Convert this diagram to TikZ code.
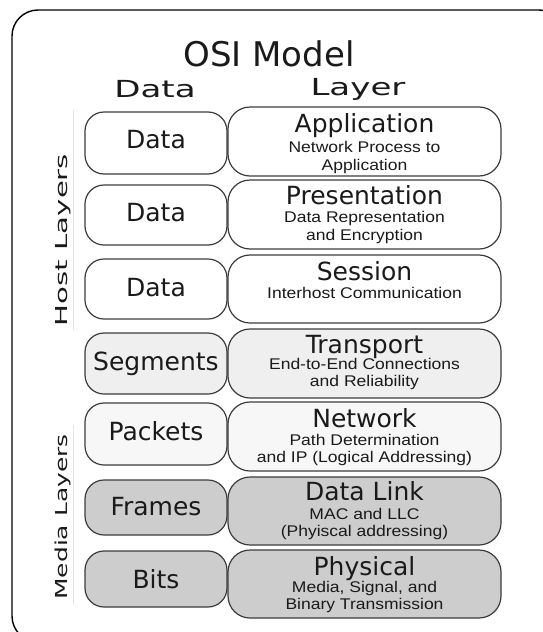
\documentclass[tikz,border=0pt]{standalone}
\usepackage{fontspec}
\usepackage{graphicx}
\setmainfont{DejaVu Sans}
\newfontfamily\dv{DejaVu Sans}
\newfontfamily\dvw[FakeStretch=1.45]{DejaVu Sans}
\newfontfamily\ar[FakeStretch=1.13]{Liberation Sans}
\definecolor{boxline}{HTML}{3C3C3C}
\definecolor{fillT}{HTML}{EFEFEF}
\definecolor{fillN}{HTML}{F7F7F7}
\definecolor{fillD}{HTML}{CDCDCD}
\definecolor{txt}{HTML}{1A1A1A}
\begin{document}
\begin{tikzpicture}[x=1pt,y=-1pt,
  frame/.style={draw=black, line width=1.4pt, rounded corners=26pt},
  lbox/.style={draw=boxline, line width=1.2pt, rounded corners=19pt, minimum width=142pt, inner sep=0pt},
  rbox/.style={draw=boxline, line width=1.2pt, rounded corners=22pt, minimum width=273pt, inner sep=0pt},
  title/.style={anchor=base, inner sep=0pt, text=txt, font=\dv\fontsize{34}{38}\selectfont},
  head/.style={anchor=base, inner sep=0pt, text=txt, font=\dvw\fontsize{23.5}{28}\selectfont},
  side/.style={anchor=base, rotate=90, inner sep=0pt, text=txt, font=\dv\fontsize{16.5}{20}\selectfont},
  lab/.style={anchor=base, inner sep=0pt, text=txt, font=\dv\fontsize{25}{30}\selectfont},
  sub/.style={anchor=base, inner sep=0pt, text=txt, font=\ar\fontsize{15.5}{18}\selectfont},
  faint/.style={draw=black!10, line width=0.6pt}
]
\useasboundingbox (0,0) rectangle (542,632);
\fill[white] (0,0) rectangle (542,632);
\draw[frame] (12,10) rectangle (565,642);

% title and headers
\node[title] (t) at (269,66) {OSI Model};
\node[head] (hd) at (155,97) {Data};
\node[head] (hl) at (358,95) {Layer};

% side labels
\draw[faint] (73,110) -- (73,330);
\draw[faint] (73,425) -- (73,605);
\node[side] (host) at (67,240) {\scalebox{1.77}[1]{Host Layers}};
\node[side] (media) at (67,517) {\scalebox{1.51}[1]{Media Layers}};

% left boxes (data units)
\node[lbox, fill=white, minimum height=62pt] (d1) at (156,143) {};
\node[lbox, fill=white, minimum height=60pt] (d2) at (156,215) {};
\node[lbox, fill=white, minimum height=60pt] (d3) at (156,289) {};
\node[lbox, fill=fillT, minimum height=61pt] (d4) at (156,363.5) {};
\node[lbox, fill=fillN, minimum height=62pt] (d5) at (156,434) {};
\node[lbox, fill=fillD, minimum height=55pt] (d6) at (156,507.5) {};
\node[lbox, fill=fillD, minimum height=56pt] (d7) at (156,579) {};

\node[lab] (ld1) at (156,148) {Data};
\node[lab] (ld2) at (156,221) {Data};
\node[lab] (ld3) at (156,296) {Data};
\node[lab] (ld4) at (156,370) {Segments};
\node[lab] (ld5) at (156,440) {Packets};
\node[lab] (ld6) at (156,515) {Frames};
\node[lab] (ld7) at (156,588) {Bits};

% right boxes (layers)
\node[rbox, fill=white, minimum height=69pt] (r1) at (364.5,141.5) {};
\node[rbox, fill=white, minimum height=69pt] (r2) at (364.5,214.5) {};
\node[rbox, fill=white, minimum height=68pt] (r3) at (364.5,289) {};
\node[rbox, fill=fillT, minimum height=69pt] (r4) at (364.5,363.5) {};
\node[rbox, fill=fillN, minimum height=69pt] (r5) at (364.5,436.5) {};
\node[rbox, fill=fillD, minimum height=68pt] (r6) at (364.5,511) {};
\node[rbox, fill=fillD, minimum height=68pt] (r7) at (364.5,584) {};

\node[lab] (h1) at (364.5,132) {Application};
\node[sub] (s1a) at (364.5,152) {Network Process to};
\node[sub] (s1b) at (364.5,170) {Application};

\node[lab] (h2) at (364.5,204) {Presentation};
\node[sub] (s2a) at (364.5,222) {Data Representation};
\node[sub] (s2b) at (364.5,240) {and Encryption};

\node[lab] (h3) at (364.5,280) {Session};
\node[sub] (s3a) at (364.5,298) {Interhost Communication};

\node[lab] (h4) at (364.5,353) {Transport};
\node[sub] (s4a) at (364.5,369) {End-to-End Connections};
\node[sub] (s4b) at (364.5,386) {and Reliability};

\node[lab] (h5) at (364.5,427) {Network};
\node[sub] (s5a) at (364.5,445) {Path Determination};
\node[sub] (s5b) at (364.5,462) {and IP (Logical Addressing)};

\node[lab] (h6) at (364.5,500.5) {Data Link};
\node[sub] (s6a) at (364.5,519) {MAC and LLC};
\node[sub] (s6b) at (364.5,536) {(Phyiscal addressing)};

\node[lab] (h7) at (364.5,575) {Physical};
\node[sub] (s7a) at (364.5,592) {Media, Signal, and};
\node[sub] (s7b) at (364.5,609) {Binary Transmission};
\end{tikzpicture}
\end{document}
